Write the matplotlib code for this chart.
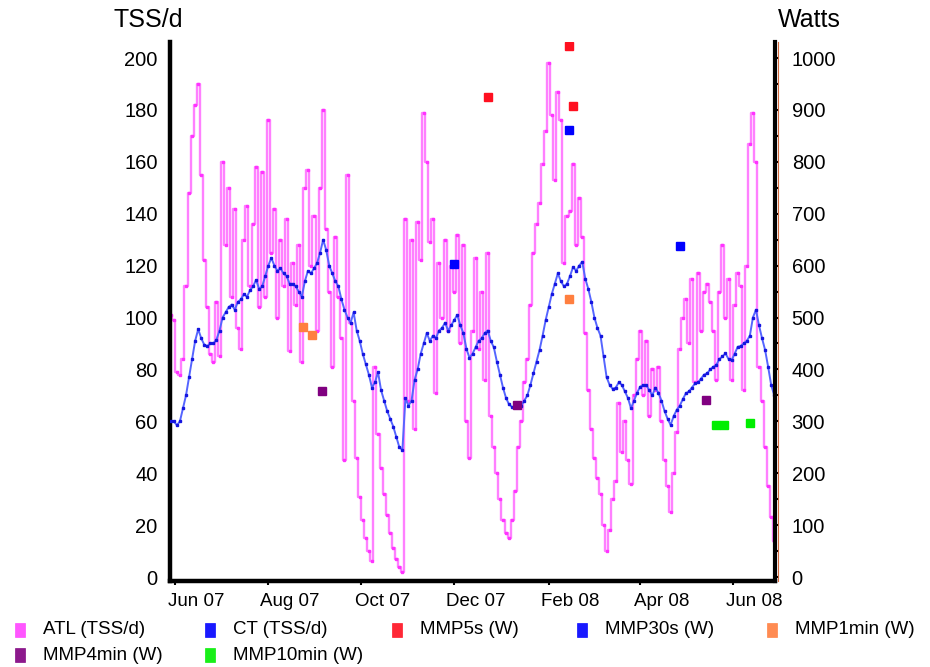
import numpy as np
import pandas as pd
import matplotlib
matplotlib.use("Agg")
import matplotlib.pyplot as plt
from matplotlib.patches import Rectangle

plt.rcParams['font.family'] = ['Liberation Sans', 'DejaVu Sans']

# ---------------- data (2-day samples starting 2007-05-29) ----------------
series_start = "2007-05-29"
atl = [101, 99, 79, 78, 84, 112, 148, 170, 182, 190, 155, 122, 104, 86, 83, 106, 85,
       160, 128, 150, 108, 142, 96, 88, 130, 143, 112, 136, 158, 104, 156, 108, 176,
       125, 142, 100, 130, 112, 138, 87, 121, 105, 128, 83, 150, 157, 120, 139, 95,
       150, 180, 134, 110, 81, 131, 108, 92, 45, 155, 98, 68, 46, 31, 22, 15, 10, 6,
       81, 55, 42, 32, 24, 17, 11, 7, 4, 2, 138, 68, 130, 57, 137, 122, 179, 160, 129,
       138, 71, 121, 100, 130, 95, 120, 110, 132, 90, 128, 60, 46, 95, 123, 88, 110,
       76, 125, 62, 50, 40, 30, 22, 17, 15, 22, 33, 50, 60, 75, 84, 105, 125, 136,
       144, 159, 172, 198, 178, 153, 187, 176, 121, 139, 141, 159, 128, 146, 131, 94,
       72, 57, 46, 38, 32, 20, 10, 18, 30, 37, 67, 48, 60, 45, 36, 70, 84, 95, 70, 91,
       62, 80, 72, 81, 60, 45, 35, 25, 40, 56, 88, 100, 107, 90, 115, 75, 117, 95,
       110, 113, 106, 95, 76, 110, 128, 100, 115, 76, 105, 117, 112, 72, 120, 167,
       179, 160, 81, 68, 50, 35, 23, 14]
ct = [60, 60, 58.5, 60, 65, 70, 77, 84, 91, 95.5, 92, 89.5, 89, 90, 90, 91.5, 95,
      100, 102, 104, 105, 103, 106, 107, 109, 108, 110.5, 112, 114.5, 111, 112, 116,
      120, 123, 120, 118, 119, 117, 116, 113, 113, 112, 110, 108, 114, 118, 117, 119,
      121, 125, 130, 126, 120, 117, 114, 112, 107, 103, 100, 98, 102, 95, 91, 86, 82,
      78, 73, 75, 79, 72, 68, 64, 61, 58, 54, 50, 49, 69, 66, 68, 76, 80, 86, 90, 94,
      91, 93, 92, 95, 96, 98, 95, 97, 99, 101, 97, 94, 88, 84.5, 86, 88.5, 91, 92,
      94, 95, 91, 88.5, 83, 78, 73, 69, 66.5, 65.5, 65.5, 65.5, 66, 68, 70, 74, 78.5,
      83, 87.5, 93, 99, 104, 109, 113, 117, 114, 112, 113, 116, 119.5, 118, 120,
      121.5, 115, 111, 106, 100, 96, 93, 85, 77, 74, 72.5, 73, 75, 74, 71.5, 69, 65,
      68, 71, 73.3, 74, 74, 72, 70, 73, 71, 68, 64, 61, 58.6, 62, 64.4, 66, 68.5,
      70.8, 71.5, 73, 74.6, 75, 76.5, 78, 78.5, 80, 81, 81.7, 84, 85, 86.2, 84, 83.6,
      86, 88.7, 89, 90, 91, 93, 100, 103, 97, 92, 87.5, 81, 74, 70]

mmp5s_dates = ["2007-12-23", "2008-02-14", "2008-02-17"]
mmp5s_w = [925, 1023, 907]
mmp30s_dates = ["2007-12-01", "2008-02-14", "2008-04-27"]
mmp30s_w = [604, 861, 638]
mmp1min_dates = ["2007-08-24", "2007-08-30", "2008-02-14"]
mmp1min_w = [481, 466, 535]
mmp4min_dates = ["2007-09-05", "2008-01-11", "2008-05-14"]
mmp4min_w = [359, 331, 342]
mmp10min_dates = ["2008-05-21", "2008-05-26", "2008-06-12"]
mmp10min_w = [293, 293, 296]

left_ticks = [0, 20, 40, 60, 80, 100, 120, 140, 160, 180, 200]
right_ticks = [0, 100, 200, 300, 400, 500, 600, 700, 800, 900, 1000]
month_ticks = ["2007-06-01", "2007-08-01", "2007-10-01", "2007-12-01",
               "2008-02-01", "2008-04-01", "2008-06-01"]
month_labels = ["Jun 07", "Aug 07", "Oct 07", "Dec 07", "Feb 08", "Apr 08", "Jun 08"]

legend_labels = ["ATL (TSS/d)", "CT (TSS/d)", "MMP5s (W)", "MMP30s (W)", "MMP1min (W)",
                 "MMP4min (W)", "MMP10min (W)"]
legend_colors = ["#ff44ff", "#0000ff", "#ff1020", "#0000ff", "#ff7f3f", "#800080", "#00ee00"]

# ---------------- figure ----------------
W, H = 930, 667
fig = plt.figure(figsize=(W / 100, H / 100), dpi=100)
ax = fig.add_axes([170 / W, 1 - 581 / H, (775 - 170) / W, (581 - 42) / H])
ax2 = ax.twinx()

dates = pd.date_range(series_start, periods=len(atl), freq="2D")
ax.plot(dates, atl, color="#ff80ff", lw=1.7, drawstyle="steps-mid", zorder=2)
ax.plot(dates, atl, ls="none", marker="s", ms=1.6, color="#ff33ff", zorder=2)
ax.plot(dates, ct, color="#5565ff", lw=1.4, zorder=3)
ax.plot(dates, ct, ls="none", marker="s", ms=1.5, color="#1515e0", zorder=3)

ms = 6
for d, w, c in [(mmp5s_dates, mmp5s_w, legend_colors[2]),
                (mmp30s_dates, mmp30s_w, legend_colors[3]),
                (mmp1min_dates, mmp1min_w, legend_colors[4]),
                (mmp4min_dates, mmp4min_w, legend_colors[5]),
                (mmp10min_dates, mmp10min_w, legend_colors[6])]:
    ax2.plot(pd.to_datetime(d), w, ls="none", marker="s", ms=ms, color=c, mec=c, zorder=4)

ax.set_xlim(pd.Timestamp("2007-05-28 12:00"), pd.Timestamp("2008-06-28 12:00"))
ax.set_ylim(-1.54, 206.2)
ax2.set_ylim(-1.54 * 5, 206.2 * 5)

# spines
for a in (ax, ax2):
    a.spines["top"].set_visible(False)
ax.spines["left"].set_linewidth(3.2)
ax.spines["bottom"].set_linewidth(3.2)
ax2.spines["right"].set_linewidth(3.0)
ax2.spines["left"].set_visible(False)
ax2.spines["bottom"].set_visible(False)
ax.spines["right"].set_visible(False)
# thin orange line beside the right spine
ax2.plot([1.0055, 1.0055], [0, 1], transform=ax2.transAxes, color="#d2693c", lw=0.8,
         clip_on=False, zorder=5)

# y ticks
ax.set_yticks(left_ticks)
ax.tick_params(axis="y", length=0, pad=9, labelsize=14.5)
ax2.set_yticks(right_ticks)
ax2.set_yticks(np.arange(50, 1001, 100), minor=True)
ax2.tick_params(axis="y", which="major", length=3, width=1.5, pad=9, labelsize=14.5)
ax2.tick_params(axis="y", which="minor", length=3, width=1.5)

# x ticks: marks at month starts, labels shifted to mid-month
ax.set_xticks(pd.to_datetime(month_ticks))
ax.set_xticklabels([])
ax.tick_params(axis="x", which="major", length=3, width=1.5)
label_pos = pd.to_datetime(month_ticks) + pd.Timedelta(days=14)
ax.set_xticks(label_pos, minor=True)
ax.set_xticklabels(month_labels, minor=True)
ax.tick_params(axis="x", which="minor", length=0, pad=9, labelsize=13.5)

# axis titles
fig.text(113 / W, 1 - 20 / H, "TSS/d", fontsize=18, ha="left", va="center")
fig.text(778 / W, 1 - 20 / H, "Watts", fontsize=18, ha="left", va="center")

# legend (fixed grid, two rows)
legend_pos = [(15, 630), (205, 630), (392, 630), (577, 630), (767, 630),
              (15, 655), (205, 655)]
for (px, py), lab, col in zip(legend_pos, legend_labels, legend_colors):
    fig.patches.append(Rectangle((px / W, 1 - (py + 7) / H), 10 / W, 14 / H,
                                 transform=fig.transFigure, facecolor=col,
                                 edgecolor=col, lw=0.5, alpha=0.9))
    fig.text((px + 28) / W, 1 - py / H, lab, fontsize=13.5, ha="left", va="center")

fig.savefig("out.png", dpi=100)
